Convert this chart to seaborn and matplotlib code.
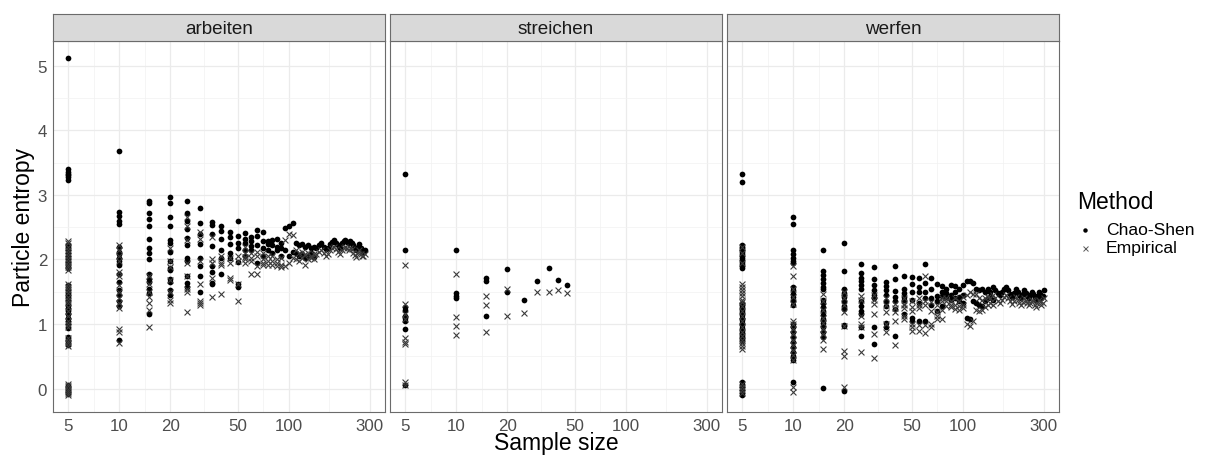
import numpy as np
import pandas as pd
import matplotlib
matplotlib.use("Agg")
import matplotlib.pyplot as plt
import seaborn as sns
from matplotlib.lines import Line2D
from matplotlib.ticker import FixedLocator, NullFormatter

sns.set_theme(style="white")
plt.rcParams['font.family'] = ['Liberation Sans', 'DejaVu Sans']

# ---------------- data ----------------
METHODS = ["Chao-Shen", "Empirical"]
VERBS = ["arbeiten", "streichen", "werfen"]
X_BREAKS = [5, 10, 20, 50, 100, 300]
Y_BREAKS = [0, 1, 2, 3, 4, 5]

# arbeiten: grouped sample sizes (several subsamples each)
arbeiten_sizes = [5, 10, 15, 20, 25, 30, 35, 40, 45, 50, 55, 60, 65, 70, 75, 80, 85, 90,
                  95, 100, 105, 110, 115, 120, 125, 130, 135, 140]
arbeiten_chao = [
    [5.12, 3.40, 3.36, 3.33, 3.30, 3.27, 3.23, 2.22, 2.18, 2.14, 2.10, 2.06, 2.02, 1.98, 1.94,
     1.90, 1.86, 1.60, 1.55, 1.50, 1.45, 1.40, 1.35, 1.30, 1.25, 1.20, 1.15, 1.10, 1.05, 1.00,
     0.94, 0.80, 0.76, 0.72, 0.68, 0.05, 0.02, -0.02, -0.05, -0.08],
    [3.68, 2.73, 2.67, 2.60, 2.55, 2.20, 2.12, 2.08, 2.03, 1.98, 1.92, 1.78, 1.65, 1.52, 1.45,
     1.36, 1.28, 0.76],
    [2.90, 2.87, 2.72, 2.62, 2.52, 2.32, 2.18, 2.10, 2.00, 1.78, 1.70, 1.65, 1.55, 1.48, 1.15],
    [2.97, 2.87, 2.65, 2.52, 2.30, 2.25, 2.12, 1.98, 1.86, 1.84, 1.70, 1.65, 1.53, 1.45],
    [2.90, 2.72, 2.60, 2.47, 2.33, 2.22, 2.02, 1.98, 1.75, 1.63, 1.58],
    [2.80, 2.56, 2.40, 2.24, 2.02, 1.90, 1.74, 1.50],
    [2.58, 2.53, 2.40, 2.21, 1.90, 1.80, 1.64, 1.62],
    [2.52, 2.44, 2.32, 2.15, 2.02, 1.78],
    [2.42, 2.35, 2.24, 2.10, 2.02],
    [2.60, 2.36, 2.25, 2.18, 1.96, 1.62, 1.58],
    [2.41, 2.32, 2.26, 2.15, 2.06],
    [2.35, 2.28, 2.21, 2.15],
    [2.45, 2.36, 2.22, 1.95],
    [2.42, 2.28, 2.18, 2.06],
    [2.28, 2.24, 2.15],
    [2.30, 2.22, 2.10],
    [2.32, 2.20, 2.15],
    [2.25, 2.18, 2.05],
    [2.49, 2.15],
    [2.52, 2.05],
    [2.56, 2.12],
    [2.25, 2.10],
    [2.22, 2.05],
    [2.24, 2.08],
    [2.20, 2.02],
    [2.22, 2.06],
    [2.18, 2.10],
    [2.20, 2.04],
]
arbeiten_emp = [
    [2.28, 2.25, 2.20, 2.15, 2.10, 2.05, 2.00, 1.96, 1.92, 1.88, 1.84, 1.62, 1.57, 1.52, 1.48,
     1.42, 1.37, 1.32, 1.27, 1.20, 1.12, 1.05, 1.00, 0.96, 0.78, 0.74, 0.70, 0.66, 0.08, 0.04,
     0.00, -0.04, -0.07, -0.10],
    [2.22, 2.15, 2.05, 1.98, 1.80, 1.75, 1.60, 1.50, 1.40, 1.32, 1.25, 0.92, 0.87, 0.71],
    [1.75, 1.62, 1.50, 1.42, 1.33, 1.22, 0.96],
    [2.17, 1.97, 1.88, 1.68, 1.50, 1.38, 1.32],
    [2.65, 2.52, 2.30, 1.95, 1.75, 1.55, 1.50, 1.18],
    [2.42, 2.32, 1.98, 1.62, 1.36, 1.32, 1.30],
    [2.35, 2.00, 1.95, 1.72, 1.42],
    [2.05, 1.95, 1.92, 1.46],
    [2.03, 1.72, 1.68, 1.95],
    [2.06, 1.98, 1.62, 1.36],
    [2.20, 2.10, 2.04, 2.00, 1.95],
    [2.10, 2.02, 1.98, 1.77],
    [2.12, 2.05, 1.90, 1.77],
    [2.10, 2.00, 1.94, 1.92],
    [2.05, 1.92, 1.98],
    [2.05, 1.98, 1.92],
    [2.00, 1.90, 1.95],
    [1.92, 1.89, 2.02],
    [2.30, 1.90],
    [2.40, 1.95],
    [2.38, 2.02],
    [2.15, 2.00],
    [2.10, 1.98],
    [2.12, 2.02],
    [2.08, 1.92],
    [2.10, 2.00],
    [2.05, 2.02],
    [2.08, 2.00],
]
# arbeiten: one subsample per size
arbeiten_tail_sizes = [145, 150, 155, 160, 165, 170, 175, 180, 185, 190, 195, 200, 205, 210,
                       215, 220, 225, 230, 235, 240, 245, 250, 255, 260, 265, 270, 275, 280]
arbeiten_tail_chao = [2.18, 2.22, 2.25, 2.20, 2.16, 2.18, 2.24, 2.27, 2.30, 2.26, 2.22, 2.18,
                      2.25, 2.28, 2.30, 2.27, 2.25, 2.28, 2.26, 2.22, 2.18, 2.15, 2.20, 2.24,
                      2.18, 2.14, 2.12, 2.15]
arbeiten_tail_emp = [2.08, 2.12, 2.15, 2.10, 2.06, 2.08, 2.14, 2.17, 2.20, 2.16, 2.12, 2.08,
                     2.15, 2.18, 2.20, 2.17, 2.15, 2.18, 2.16, 2.10, 2.07, 2.04, 2.10, 2.14,
                     2.08, 2.05, 2.06, 2.08]

# streichen
streichen_sizes = [5, 10, 15, 20]
streichen_chao = [
    [3.33, 2.15, 1.26, 1.22, 1.13, 1.09, 1.05, 0.93, 0.05],
    [2.14, 1.48, 1.44, 1.41],
    [1.72, 1.67, 1.13],
    [1.85, 1.50],
]
streichen_emp = [
    [1.91, 1.31, 1.15, 1.08, 0.79, 0.73, 0.69, 0.11, 0.06],
    [1.78, 1.11, 0.97, 0.83],
    [1.44, 1.30, 0.87],
    [1.55, 1.13],
]
streichen_tail_sizes = [25, 30, 35, 40, 45]
streichen_tail_chao = [1.37, 1.67, 1.86, 1.68, 1.61]
streichen_tail_emp = [1.17, 1.49, 1.50, 1.53, 1.48]

# werfen
werfen_sizes = [5, 10, 15, 20, 25, 30, 35, 40, 45, 50, 55, 60, 65, 70, 75, 80, 85, 90, 95,
                100, 105, 110, 115, 120, 125, 130, 135, 140, 145, 150]
werfen_chao = [
    [3.32, 3.20, 2.23, 2.20, 2.17, 2.14, 2.11, 2.08, 2.05, 2.02, 1.99, 1.96, 1.93, 1.90, 1.87,
     1.33, 1.30, 1.26, 1.22, 1.18, 1.14, 1.10, 1.06, 1.02, 0.98, 0.94, 0.90, 0.86, 0.82, 0.78,
     0.74, 0.10, 0.06, 0.02, -0.02, -0.06, -0.10],
    [2.65, 2.55, 2.15, 2.08, 2.03, 1.98, 1.95, 1.58, 1.52, 1.47, 1.42, 1.36, 1.30, 1.00, 0.95,
     0.88, 0.80, 0.72, 0.64, 0.56, 0.50, 0.45, 0.10],
    [2.15, 1.82, 1.76, 1.70, 1.64, 1.58, 1.54, 1.38, 1.32, 1.26, 1.20, 1.14, 1.08, 1.02, 0.96,
     0.88, 0.80, 0.01],
    [2.26, 1.82, 1.55, 1.48, 1.42, 1.35, 1.28, 1.23, 0.97, 0.98, -0.03],
    [1.93, 1.79, 1.72, 1.66, 1.60, 1.54, 1.36, 1.28, 1.20, 1.15, 0.95, 0.81],
    [1.88, 1.69, 1.60, 1.52, 1.45, 1.41, 0.95, 0.69],
    [1.65, 1.59, 1.52, 1.45, 1.36, 1.28, 0.95, 1.02],
    [1.90, 1.69, 1.51, 1.42, 1.35, 1.23, 0.82],
    [1.74, 1.54, 1.48, 1.42, 1.38, 1.15],
    [1.73, 1.62, 1.38, 1.10, 1.05, 1.50],
    [1.72, 1.58, 1.33, 1.04, 1.50],
    [1.93, 1.64, 1.49, 1.05, 1.40],
    [1.72, 1.55, 1.41, 1.30],
    [1.62, 1.44, 1.35, 1.20],
    [1.59, 1.44, 1.28, 1.50],
    [1.54, 1.42, 1.48],
    [1.60, 1.45, 1.38],
    [1.59, 1.41, 1.50],
    [1.55, 1.42, 1.36],
    [1.60, 1.45, 1.33],
    [1.66, 1.10],
    [1.67, 1.08],
    [1.64, 1.36],
    [1.55, 1.33],
    [1.52, 1.30],
    [1.54, 1.28],
    [1.50, 1.35],
    [1.55, 1.40],
    [1.50, 1.42],
    [1.58, 1.38],
]
werfen_emp = [
    [2.20, 2.10, 1.95, 1.62, 1.58, 1.53, 1.48, 1.43, 1.38, 1.34, 1.28, 1.20, 1.12, 1.04, 0.96,
     0.88, 0.82, 0.76, 0.70, 0.66, 0.62, 0.08, 0.03, -0.02, -0.07],
    [1.90, 1.75, 1.55, 1.42, 1.31, 1.05, 1.00, 0.92, 0.84, 0.76, 0.68, 0.60, 0.52, 0.44, 0.02,
     -0.05],
    [1.46, 1.35, 1.22, 1.10, 1.02, 0.92, 0.85, 0.75, 0.62],
    [1.49, 1.40, 1.30, 1.18, 0.97, 0.59, 0.51, 0.03],
    [1.44, 1.38, 1.13, 1.00, 0.95, 0.56],
    [1.45, 1.38, 1.31, 1.15, 0.85, 0.47],
    [1.40, 1.30, 1.18, 1.00, 0.88],
    [1.31, 1.25, 1.18, 1.05, 0.67],
    [1.40, 1.31, 1.25, 1.08, 1.12, 1.30],
    [1.26, 1.20, 1.00, 0.90, 0.95, 1.35],
    [1.41, 1.25, 0.90, 0.98, 1.30],
    [1.74, 1.36, 0.86, 0.98, 1.30],
    [1.34, 0.95, 1.00, 1.20],
    [1.18, 1.08, 1.30, 1.12],
    [1.21, 1.08, 1.35, 1.40],
    [1.36, 1.28, 1.40],
    [1.36, 1.26, 1.30],
    [1.23, 1.30, 1.40],
    [1.35, 1.22, 1.28],
    [1.42, 1.25, 1.30],
    [1.45, 1.00],
    [1.50, 0.97],
    [1.47, 1.05],
    [1.46, 1.22],
    [1.40, 1.20],
    [1.38, 1.22],
    [1.40, 1.26],
    [1.42, 1.30],
    [1.40, 1.32],
    [1.45, 1.30],
]
werfen_tail_sizes = [155, 160, 165, 170, 175, 180, 185, 190, 195, 200, 205, 210, 215, 220, 225,
                     230, 235, 240, 245, 250, 255, 260, 265, 270, 275, 280, 285, 290, 295, 300]
werfen_tail_chao = [1.52, 1.48, 1.45, 1.50, 1.55, 1.58, 1.52, 1.46, 1.42, 1.48, 1.54, 1.50,
                    1.45, 1.40, 1.46, 1.52, 1.48, 1.43, 1.40, 1.45, 1.50, 1.47, 1.42, 1.38,
                    1.44, 1.50, 1.46, 1.40, 1.44, 1.52]
werfen_tail_emp = [1.40, 1.36, 1.33, 1.38, 1.42, 1.45, 1.40, 1.35, 1.31, 1.36, 1.42, 1.38,
                   1.33, 1.29, 1.34, 1.40, 1.36, 1.32, 1.29, 1.33, 1.38, 1.35, 1.30, 1.27,
                   1.32, 1.38, 1.34, 1.29, 1.32, 1.40]


def build(verb, sizes, chao, emp, tsizes, tchao, temp):
    rows = []
    for method, groups, tail in ((METHODS[0], chao, tchao), (METHODS[1], emp, temp)):
        for n, vals in zip(sizes, groups):
            for v in vals:
                rows.append((verb, n, v, method))
        for n, v in zip(tsizes, tail):
            rows.append((verb, n, v, method))
    return pd.DataFrame(rows, columns=["verb", "n", "entropy", "Method"])


df = pd.concat([
    build("arbeiten", arbeiten_sizes, arbeiten_chao, arbeiten_emp,
          arbeiten_tail_sizes, arbeiten_tail_chao, arbeiten_tail_emp),
    build("streichen", streichen_sizes, streichen_chao, streichen_emp,
          streichen_tail_sizes, streichen_tail_chao, streichen_tail_emp),
    build("werfen", werfen_sizes, werfen_chao, werfen_emp,
          werfen_tail_sizes, werfen_tail_chao, werfen_tail_emp),
], ignore_index=True)

# ---------------- layout ----------------
W, H = 1205, 456
fig = plt.figure(figsize=(W / 100, H / 100), dpi=100)

pw = 332
p_top, p_bot = 42, 413
s_top = 15
lefts = [53, 390, 727]

# scale limits: ggplot-like 5% expansion on log x / linear y
lx = np.log10([min(df.n), max(df.n)])
ex = 0.05 * (lx[1] - lx[0])
xlim = (10 ** (lx[0] - ex), 10 ** (lx[1] + ex))
ylo, yhi = df.entropy.min(), df.entropy.max()
ey = 0.05 * (yhi - ylo)
ylim = (ylo - ey, yhi + ey)

lb = np.log10(X_BREAKS)
x_minor = list(10 ** ((lb[:-1] + lb[1:]) / 2))
y_minor = [0.5, 1.5, 2.5, 3.5, 4.5]

TICK_FS = 12.2
STRIP_FS = 13.6
TITLE_FS = 16.5
LEG_FS = 12.6
border = "#6b6b6b"

for i, (verb, x0) in enumerate(zip(VERBS, lefts)):
    ax = fig.add_axes([x0 / W, (H - p_bot) / H, pw / W, (p_bot - p_top) / H])
    ax.set_xscale("log")
    ax.set_facecolor("white")
    sub = df[df.verb == verb]
    sns.scatterplot(data=sub[sub.Method == "Chao-Shen"], x="n", y="entropy", marker="o",
                    color="black", s=17, linewidth=0, ax=ax, legend=False, zorder=3)
    sns.scatterplot(data=sub[sub.Method == "Empirical"], x="n", y="entropy", marker="x",
                    color="#3a3a3a", s=18, linewidth=0.8, ax=ax, legend=False, zorder=4)
    ax.set_xlim(*xlim)
    ax.set_ylim(*ylim)
    ax.set_xticks(X_BREAKS)
    ax.set_xticklabels([str(b) for b in X_BREAKS])
    ax.xaxis.set_minor_locator(FixedLocator(x_minor))
    ax.xaxis.set_minor_formatter(NullFormatter())
    ax.set_yticks(Y_BREAKS)
    ax.yaxis.set_minor_locator(FixedLocator(y_minor))
    ax.grid(True, which="major", color="#EBEBEB", linewidth=0.9, zorder=0)
    ax.grid(True, which="minor", color="#F2F2F2", linewidth=0.5, zorder=0)
    ax.set_axisbelow(True)
    ax.tick_params(which="minor", length=0)
    ax.tick_params(axis="both", which="major", labelsize=TICK_FS, labelcolor="#4D4D4D",
                   color="#555555", length=3, width=0.7, pad=1.2)
    if i == 0:
        ax.set_yticklabels([str(b) for b in Y_BREAKS])
    else:
        ax.tick_params(axis="y", which="both", left=False, labelleft=False)
    ax.set_xlabel("")
    ax.set_ylabel("")
    for sp in ax.spines.values():
        sp.set_color(border)
        sp.set_linewidth(0.8)
        sp.set_visible(True)

    # facet strip
    sax = fig.add_axes([x0 / W, (H - p_top) / H, pw / W, (p_top - s_top) / H])
    sax.set_facecolor("#D9D9D9")
    sax.set_xticks([])
    sax.set_yticks([])
    for sp in sax.spines.values():
        sp.set_color(border)
        sp.set_linewidth(0.8)
    sax.text(0.5, 0.47, verb, transform=sax.transAxes, ha="center", va="center",
             fontsize=STRIP_FS, color="#1A1A1A")

# axis titles
fig.text((lefts[0] + lefts[2] + pw) / 2 / W, (H - 450.5) / H, "Sample size",
         ha="center", va="baseline", fontsize=TITLE_FS, color="black")
fig.text(24 / W, (H - (p_top + p_bot) / 2) / H, "Particle entropy", rotation=90,
         ha="center", va="center", fontsize=TITLE_FS, color="black")

# legend
fig.text(1077 / W, (H - 203) / H, "Method", ha="left", va="center", fontsize=TITLE_FS,
         color="black")
leg_rows = [("Chao-Shen", 231, dict(marker="o", color="black", markersize=3.2, linestyle="None",
                                    markeredgewidth=0)),
            ("Empirical", 249, dict(marker="x", color="#5a5a5a", markersize=3.6,
                                    linestyle="None", markeredgewidth=0.7))]
for label, yp, style in leg_rows:
    fig.add_artist(Line2D([1085 / W], [(H - yp) / H], transform=fig.transFigure, **style))
    fig.text(1106 / W, (H - yp) / H, label, ha="left", va="center", fontsize=LEG_FS,
             color="black")

fig.savefig("out.png", dpi=100)
